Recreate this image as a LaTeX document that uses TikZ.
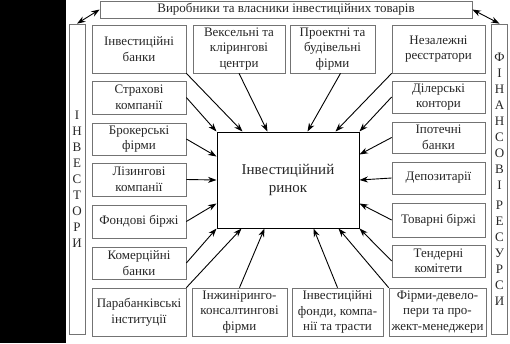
\documentclass[tikz,border=0pt]{standalone}
\usepackage{fontspec}
\setmainfont{Liberation Serif}
\usetikzlibrary{arrows.meta}
\begin{document}
\begin{tikzpicture}[x=1pt,y=-1pt,
  box/.style={draw=black!55, line width=0.7pt, align=center, inner sep=1pt,
    font=\fontsize{13}{15.5}\selectfont, text=black!85},
  colbox/.style={draw=black!55, line width=0.7pt, align=center, inner sep=0pt,
    font=\fontsize{13}{16}\selectfont, text=black!85, minimum width=16pt, minimum height=310pt},
  mainbox/.style={draw=black, line width=1pt, align=center,
    font=\fontsize{15}{18}\selectfont, text=black!85, minimum width=142pt, minimum height=96pt},
  arr/.style={-{Stealth[length=8.5pt,width=6pt]}, line width=0.9pt},
  darr/.style={{Stealth[length=8.5pt,width=6pt]}-{Stealth[length=8.5pt,width=6pt]}, line width=0.9pt}]
\useasboundingbox (0,0) rectangle (510,343);
\fill[black] (0,0) rectangle (66,343);

% banner and side columns
\node[box, minimum width=372pt, minimum height=17pt, inner sep=0pt] (banner) at (286,9.5) {Виробники та власники інвестиційних товарів};
\node[colbox] (invcol) at (77,179) {І\\Н\\В\\Е\\С\\Т\\О\\Р\\И};
\node[colbox] (fincol) at (499.5,179) {Ф\\І\\Н\\А\\Н\\С\\О\\В\\І\\[4pt]Р\\Е\\С\\У\\Р\\С\\И};

% central box
\node[mainbox] (mkt) at (288,180) {Інвестиційний\\ринок};

% left column
\node[box, minimum width=94pt, minimum height=48pt] (ib) at (139,49) {Інвестиційні\\банки};
\node[box, minimum width=94pt, minimum height=33pt] (strax) at (139,97.5) {Страхові\\компанії};
\node[box, minimum width=94pt, minimum height=32pt] (brok) at (139,139) {Брокерські\\фірми};
\node[box, minimum width=94pt, minimum height=33pt] (liz) at (139,179.5) {Лізингові\\компанії};
\node[box, minimum width=94pt, minimum height=33pt] (fond) at (139,221.5) {Фондові біржі};
\node[box, minimum width=94pt, minimum height=32pt] (kom) at (139,263) {Комерційні\\банки};
\node[box, minimum width=94pt, minimum height=48pt] (para) at (139,312) {Парабанківські\\інституції};

% top middle
\node[box, minimum width=92pt, minimum height=48pt] (veks) at (239,49) {Вексельні та\\клірингові\\центри};
\node[box, minimum width=85pt, minimum height=48pt] (proekt) at (332.5,49) {Проектні та\\будівельні\\фірми};

% right column
\node[box, minimum width=93pt, minimum height=48pt] (nez) at (438.5,49) {Незалежні\\реєстратори};
\node[box, minimum width=93pt, minimum height=32pt] (dil) at (438.5,97) {Ділерські\\контори};
\node[box, minimum width=93pt, minimum height=31pt] (ipot) at (438.5,137.5) {Іпотечні\\банки};
\node[box, minimum width=93pt, minimum height=32pt] (dep) at (438.5,178) {Депозитарії};
\node[box, minimum width=93pt, minimum height=34pt] (tov) at (438.5,220) {Товарні біржі};
\node[box, minimum width=93pt, minimum height=32pt] (tend) at (438.5,261) {Тендерні\\комітети};
\node[box, minimum width=97pt, minimum height=48pt] (firm) at (437.5,312) {Фірми-девело-\\пери та про-\\жект-менеджери};

% bottom middle
\node[box, minimum width=95pt, minimum height=48pt] (inzh) at (239.5,312) {Інжиніринго-\\консалтингові\\фірми};
\node[box, minimum width=91pt, minimum height=48pt] (fondy) at (337.5,312) {Інвестиційні\\фонди, компа-\\нії та трасти};

% double arrows
\draw[darr] (banner.west) -- (invcol.north);
\draw[darr] (banner.east) -- (fincol.north);

% arrows to the market
\draw[arr] (strax.east) -- (mkt.north west);
\draw[arr] (ib.south east) -- ([xshift=26pt]mkt.north west);
\draw[arr] (veks.south) -- ([xshift=51pt]mkt.north west);
\draw[arr] ([xshift=8pt]proekt.south) -- ([xshift=-52pt]mkt.north east);
\draw[arr] (nez.south west) -- ([xshift=-24pt]mkt.north east);
\draw[arr] (dil.west) -- (mkt.north east);
\draw[arr] (brok.east) -- ([yshift=-25pt]mkt.north west);
\draw[arr] (liz.east) -- (mkt.west);
\draw[arr] (fond.east) -- ([yshift=25pt]mkt.south west);
\draw[arr] (kom.east) -- (mkt.south west);
\draw[arr] (para.north east) -- ([xshift=25pt]mkt.south west);
\draw[arr] (inzh.north) -- ([xshift=48pt]mkt.south west);
\draw[arr] (fondy.north) -- ([xshift=-46pt]mkt.south east);
\draw[arr] (firm.north west) -- ([xshift=-21pt]mkt.south east);
\draw[arr] (tend.west) -- (mkt.south east);
\draw[arr] (ipot.west) -- ([yshift=-23pt]mkt.north east);
\draw[arr] (dep.west) -- (mkt.east);
\draw[arr] (tov.west) -- ([yshift=25pt]mkt.south east);
\end{tikzpicture}
\end{document}
